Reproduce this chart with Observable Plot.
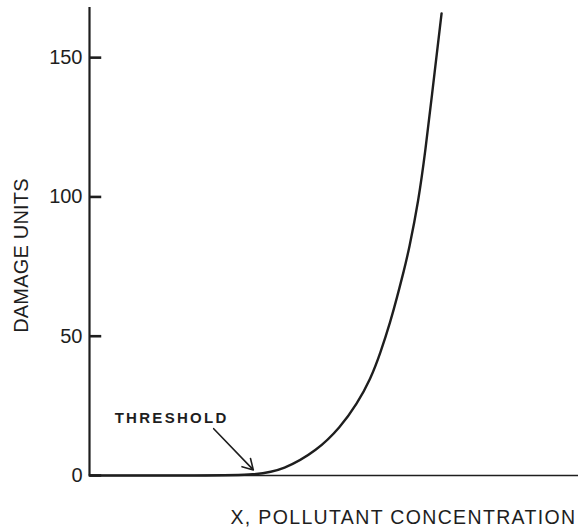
<!DOCTYPE html>
<html>
<head>
<meta charset="utf-8">
<script src="https://cdn.jsdelivr.net/npm/d3@7"></script>
<script src="https://cdn.jsdelivr.net/npm/@observablehq/plot@0.6"></script>
<style>
  html, body { margin: 0; padding: 0; background: #fff; }
  svg { font-family: "Liberation Sans", Arial, Helvetica, sans-serif; }
</style>
</head>
<body>
<div id="chart"></div>
<script>
// Damage function (x in arbitrary concentration units)
const concentration = [0, 20, 33.9, 39.7, 46.6, 51.3, 54.7, 57.5, 59.5, 61.6, 62.9, 64.3, 65.3, 67.3, 68.7, 69.9, 72.0];
const damage        = [0,  0,  0.0,  2.0,  9.0, 17.3, 25.7, 34.7, 44.0, 55.6, 64.0, 73.6, 80.8, 98.7, 116.7, 134.6, 165.9];
const yTicks = [0, 50, 100, 150];
const yLabel = "DAMAGE UNITS";
const xLabel = "X, POLLUTANT CONCENTRATION";
const thresholdLabel = [{text: "THRESHOLD", x: 16.8, y: 20.5}];
const thresholdArrow = [{x1: 25.4, y1: 16.8, x2: 33.5, y2: 2.0}];

const curve = concentration.map((x, i) => ({x, y: damage[i]}));
const ink = "#1e1e1e";
const tickLength = 2.4; // in x units (about 12px), ticks point into the plot
const tickRows = yTicks.map(y => ({y, x1: 0, x2: tickLength}));

const chart = Plot.plot({
  width: 578,
  height: 529,
  marginLeft: 89,
  marginRight: 0,
  marginTop: 7,
  marginBottom: 54,
  x: {domain: [0, 100], axis: null},
  y: {domain: [0, 168], axis: null},
  marks: [
    Plot.ruleY([0], {stroke: ink, strokeWidth: 1.6}),
    Plot.ruleX([0], {stroke: ink, strokeWidth: 2.2}),
    Plot.link(tickRows, {x1: "x1", x2: "x2", y1: "y", y2: "y", stroke: ink, strokeWidth: 2.6}),
    Plot.axisY(yTicks, {
      anchor: "left",
      tickSize: 0,
      tickPadding: 7,
      fill: ink,
      fontSize: 20,
      label: null,
      tickFormat: d => String(d)
    }),
    Plot.line(curve, {x: "x", y: "y", curve: "basis", stroke: ink, strokeWidth: 2.4}),
    Plot.arrow(thresholdArrow, {x1: "x1", y1: "y1", x2: "x2", y2: "y2", stroke: ink, strokeWidth: 1.6, headLength: 11}),
    Plot.text(thresholdLabel, {x: "x", y: "y", text: "text", fontSize: 15, fontWeight: "bold", fill: ink, textAnchor: "middle", lineAnchor: "middle"}),
    Plot.text([yLabel], {frameAnchor: "left", rotate: -90, dx: -68, dy: 14, fontSize: 20, fill: ink, textAnchor: "middle", lineAnchor: "middle"}),
    Plot.text([xLabel], {frameAnchor: "bottom-right", dx: -2, dy: 42, fontSize: 19.5, fill: ink, textAnchor: "end", lineAnchor: "middle"})
  ]
});
const spacing = {"THRESHOLD": "2.3px", [yLabel]: "0.2px", [xLabel]: "1.35px"};
d3.select(chart).selectAll("text").each(function() {
  const s = spacing[this.textContent];
  if (s) d3.select(this).style("letter-spacing", s);
});
document.getElementById("chart").appendChild(chart);
</script>
</body>
</html>
